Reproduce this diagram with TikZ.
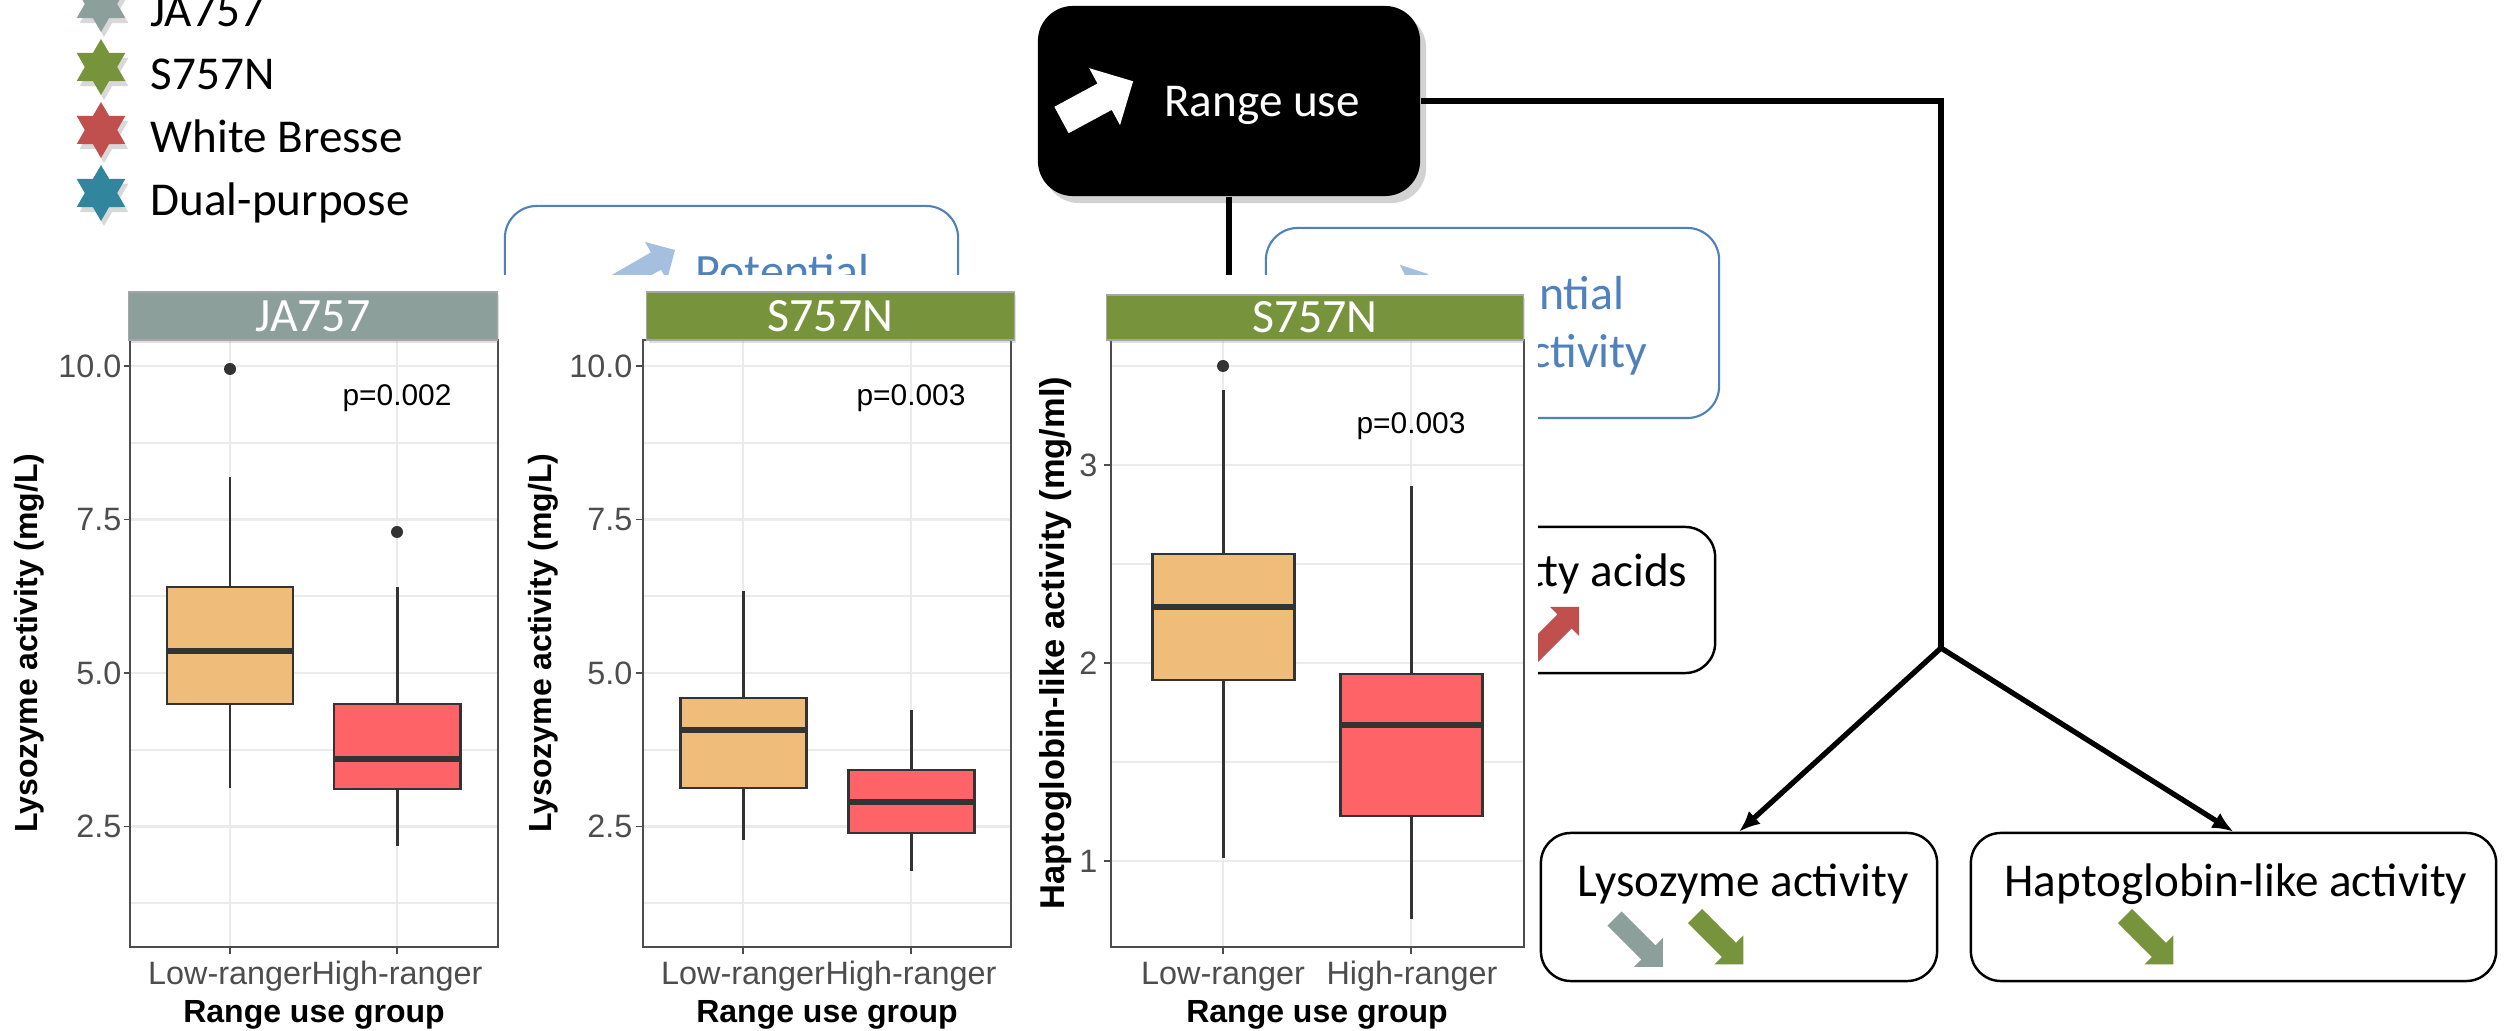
\documentclass[tikz,border=0pt]{standalone}
\usepackage{fontspec}
\setmainfont{Carlito}
\newfontfamily\arialf{Liberation Sans}
\usetikzlibrary{arrows.meta,shadows}
\definecolor{jagrey}{RGB}{141,159,154}
\definecolor{sgreen}{RGB}{119,147,60}
\definecolor{wbred}{RGB}{192,80,77}
\definecolor{dpteal}{RGB}{49,133,156}
\definecolor{offblue}{RGB}{79,129,189}
\definecolor{lightblue}{RGB}{167,191,222}
\definecolor{lowfill}{RGB}{240,188,122}
\definecolor{highfill}{RGB}{253,99,103}
\definecolor{boxline}{RGB}{51,51,51}
\definecolor{gridc}{RGB}{235,235,235}
\definecolor{tickgrey}{RGB}{77,77,77}

% block arrow: #1 colour, #2 x, #3 y (tail centre), #4 angle, #5 shaft length, #6 shaft half width, #7 head length, #8 head half width
\newcommand{\myblockarr}[8]{\fill[#1, shift={(#2,#3)}, rotate=#4] (0,-#6) -- (#5,-#6) -- (#5,-#8) -- ({#5+#7},0) -- (#5,#8) -- (#5,#6) -- (0,#6) -- cycle;}
% six-pointed star
\newcommand{\myhexstar}[3]{\fill[#1, drop shadow={shadow xshift=0.03cm, shadow yshift=-0.05cm, opacity=0.3}] (#2,#3) +(90:28) -- +(60:16.2) -- +(30:28) -- +(0:16.2) -- +(-30:28) -- +(-60:16.2) -- +(-90:28) -- +(-120:16.2) -- +(-150:28) -- +(180:16.2) -- +(150:28) -- +(120:16.2) -- cycle;}
% box plot: #1 xc, #2 half width, #3 lower whisker end, #4 q1, #5 median, #6 q3, #7 upper whisker end, #8 fill
\newcommand{\mybplot}[8]{%
  \draw[whisk] (#1,#7) -- (#1,#6);
  \draw[whisk] (#1,#4) -- (#1,#3);
  \filldraw[bx, fill=#8] ({#1-#2},#6) rectangle ({#1+#2},#4);
  \draw[medl] ({#1-#2},#5) -- ({#1+#2},#5);}

\begin{document}
\begin{tikzpicture}[x=0.01cm,y=-0.01cm,
 flowtxt/.style={font=\fontsize{13.4}{16}\selectfont, inner sep=0pt},
 bluetxt/.style={font=\fontsize{13.6}{16}\selectfont, text=offblue, inner sep=0pt},
 striptxt/.style={font=\fontsize{13.6}{16}\selectfont, text=white},
 ticklab/.style={font=\arialf\fontsize{9.2}{11}\selectfont, text=tickgrey, inner sep=0pt},
 axtitle/.style={font=\arialf\bfseries\fontsize{9.1}{11}\selectfont, inner sep=0pt},
 pval/.style={font=\arialf\fontsize{8.5}{10}\selectfont, inner sep=0pt},
 gridmaj/.style={draw=gridc, line width=0.7pt},
 gridmin/.style={draw=gridc, line width=0.35pt},
 panelb/.style={draw=tickgrey, line width=0.55pt},
 tickm/.style={draw=tickgrey, line width=0.55pt},
 whisk/.style={draw=boxline, line width=0.85pt},
 bx/.style={draw=boxline, line width=0.85pt},
 medl/.style={draw=boxline, line width=1.5pt},
 strip/.style={draw=gray!70, line width=0.3pt, inner sep=0pt, drop shadow={shadow xshift=0.02cm, shadow yshift=-0.03cm, opacity=0.25}},
 flowbox/.style={draw=black, fill=white, line width=0.7pt, rounded corners=0.3cm, inner sep=0pt},
 bluebox/.style={draw=offblue, fill=white, line width=0.6pt, rounded corners=0.32cm, inner sep=0pt},
 conn/.style={draw=black, line width=1.5pt},
]
\useasboundingbox (0,0) rectangle (2506,1031);
\clip (0,0) rectangle (2506,1031);
\fill[white] (0,0) rectangle (2506,1031);

% ---------- background flowchart parts (partly hidden by the plots) ----------
\node[bluebox, minimum width=4.53cm, minimum height=1.90cm] (pot1) at (731.5,301) {};
\myblockarr{lightblue}{604}{291}{30}{60}{10}{22}{22}
\node[bluetxt, anchor=base west] (pot1t) at (695,288) {Potential};

\node[bluebox, minimum width=4.53cm, minimum height=1.90cm] (pot2) at (1492.5,323) {};
\myblockarr{lightblue}{1366.5}{305.3}{27}{48}{10}{21}{21}
\node[bluetxt, anchor=base west] (pot2t) at (1450,310) {Potential};
\node[bluetxt, anchor=base east] (pot2u) at (1648,368) {activity};

\node[flowbox, minimum width=4.15cm, minimum height=1.46cm] (fatty) at (1507.5,600) {};
\myblockarr{wbred}{1530.6}{655.4}{45}{48}{10}{20.5}{20.5}
\node[flowtxt, anchor=base east] (fattyt) at (1688,587) {fatty acids};

\node[fill=black, rounded corners=0.35cm, minimum width=3.82cm, minimum height=1.90cm, inner sep=0pt,
      drop shadow={shadow xshift=0.06cm, shadow yshift=-0.07cm, opacity=0.35}] (rangeuse) at (1229,101) {};
\coordinate (rvend) at (1229,420);
\draw[conn] (rangeuse.south) -- (rvend);

% white background of the plot images
\fill[white] (0,275) rectangle (1538,1031);

% ---------- Range use box ----------
\myblockarr{white}{1061.5}{120}{28.4}{49}{15}{32.4}{32.4}
\node[flowtxt, text=white, anchor=base] (rangelbl) at (1262,117) {Range use};

% ---------- legend ----------
\myhexstar{jagrey}{101}{4}
\myhexstar{sgreen}{101}{67}
\myhexstar{wbred}{101}{130}
\myhexstar{dpteal}{101}{193}
\node[flowtxt, anchor=base west] (legja) at (150,27) {JA757};
\node[flowtxt, anchor=base west] (legs) at (150,90) {S757N};
\node[flowtxt, anchor=base west] (legwb) at (150,153) {White Bresse};
\node[flowtxt, anchor=base west] (legdp) at (150,216) {Dual-purpose};

% ---------- right flowchart ----------
\node[flowbox, minimum width=3.96cm, minimum height=1.48cm] (lyso) at (1739,907) {};
\node[flowbox, minimum width=5.25cm, minimum height=1.48cm] (hapto) at (2233.5,907) {};
\node[flowtxt, anchor=base] (lysot) at (1743,896) {Lysozyme activity};
\node[flowtxt, anchor=base] (haptot) at (2236,896) {Haptoglobin-like activity};
\myblockarr{jagrey}{1614.5}{918.5}{-45}{48}{10}{20.5}{20.5}
\myblockarr{sgreen}{1695}{916}{-45}{48}{10}{20.5}{20.5}
\myblockarr{sgreen}{2125}{916}{-45}{48}{10}{20.5}{20.5}

\coordinate (fork) at (1941,648);
\draw[conn] (rangeuse.east) -| (fork);
\draw[conn, -{Latex[length=6pt,width=5pt]}] (fork) -- (lyso.north);
\draw[conn, -{Latex[length=6pt,width=5pt]}] (fork) -- (hapto.north);

% ---------- panel 1 ----------
\foreach \yy in {443,596,750,903} \draw[gridmin] (130,\yy) -- (498,\yy);
\foreach \yy in {366,519.5,673,826.5} \draw[gridmaj] (130,\yy) -- (498,\yy);
\foreach \xx in {230,397} \draw[gridmaj] (\xx,340) -- (\xx,947);
\mybplot{230}{63}{788}{704}{651}{587}{477}{lowfill}
\mybplot{397}{63}{846}{789}{759}{704}{587}{highfill}
\fill[boxline] (230,369) circle[radius=0.06cm];
\fill[boxline] (397,532) circle[radius=0.06cm];
\draw[panelb] (130,340) rectangle (498,947);
\foreach \yy/\ll [count=\i] in {366/10.0,519.5/7.5,673/5.0,826.5/2.5} {\draw[tickm] (124,\yy) -- (130,\yy); \node[ticklab,anchor=east] (pay\i) at (122,\yy) {\ll};}
\foreach \xx in {230,397} \draw[tickm] (\xx,947) -- (\xx,954);
\node[ticklab,anchor=base] (pax1) at (230,984) {Low-ranger};
\node[ticklab,anchor=base] (pax2) at (397,984) {High-ranger};
\node[axtitle,anchor=base] (paxt) at (314,1022) {Range use group};
\node[axtitle,rotate=90] (payt) at (29,643) {Lysozyme activity (mg/L)};
\node[pval,anchor=base] (pap) at (397,406) {p=0.002};
\node[strip,striptxt,fill=jagrey,minimum width=3.68cm,minimum height=0.48cm] (pas) at (313,316) {JA757};

% ---------- panel 2 ----------
\foreach \yy in {443,596,750,903} \draw[gridmin] (643,\yy) -- (1011,\yy);
\foreach \yy in {366,519.5,673,826.5} \draw[gridmaj] (643,\yy) -- (1011,\yy);
\foreach \xx in {743,911} \draw[gridmaj] (\xx,340) -- (\xx,947);
\mybplot{743}{63}{840}{788}{730}{698}{591}{lowfill}
\mybplot{911}{63}{871}{833}{802}{770}{710}{highfill}
\draw[panelb] (643,340) rectangle (1011,947);
\foreach \yy/\ll [count=\i] in {366/10.0,519.5/7.5,673/5.0,826.5/2.5} {\draw[tickm] (636,\yy) -- (643,\yy); \node[ticklab,anchor=east] (pby\i) at (633,\yy) {\ll};}
\foreach \xx in {743,911} \draw[tickm] (\xx,947) -- (\xx,954);
\node[ticklab,anchor=base] (pbx1) at (743,984) {Low-ranger};
\node[ticklab,anchor=base] (pbx2) at (911,984) {High-ranger};
\node[axtitle,anchor=base] (pbxt) at (827,1022) {Range use group};
\node[axtitle,rotate=90] (pbyt) at (543,643) {Lysozyme activity (mg/L)};
\node[pval,anchor=base] (pbp) at (911,406) {p=0.003};
\node[strip,striptxt,fill=sgreen,minimum width=3.67cm,minimum height=0.48cm] (pbs) at (830.5,316) {S757N};

% ---------- panel 3 ----------
\foreach \yy in {366,564,762} \draw[gridmin] (1111,\yy) -- (1524,\yy);
\foreach \yy in {465,663,861} \draw[gridmaj] (1111,\yy) -- (1524,\yy);
\foreach \xx in {1223,1411} \draw[gridmaj] (\xx,340) -- (\xx,947);
\mybplot{1223}{71}{858}{680}{607}{554}{390}{lowfill}
\mybplot{1411}{71}{919}{816}{725}{674}{486}{highfill}
\fill[boxline] (1223,366) circle[radius=0.06cm];
\draw[panelb] (1111,340) rectangle (1524,947);
\foreach \yy/\ll [count=\i] in {465/3,663/2,861/1} {\draw[tickm] (1104,\yy) -- (1111,\yy); \node[ticklab,anchor=east] (pcy\i) at (1098,\yy) {\ll};}
\foreach \xx in {1223,1411} \draw[tickm] (\xx,947) -- (\xx,954);
\node[ticklab,anchor=base] (pcx1) at (1223,984) {Low-ranger};
\node[ticklab,anchor=base] (pcx2) at (1412,984) {High-ranger};
\node[axtitle,anchor=base] (pcxt) at (1317,1022) {Range use group};
\node[axtitle,font=\arialf\bfseries\fontsize{9.8}{11}\selectfont,rotate=90] (pcyt) at (1056,643) {Haptoglobin-like activity (mg/ml)};
\node[pval,anchor=base] (pcp) at (1411,434) {p=0.003};
\node[strip,striptxt,fill=sgreen,minimum width=4.16cm,minimum height=0.45cm] (pcs) at (1315,317.5) {S757N};
\end{tikzpicture}
\end{document}
